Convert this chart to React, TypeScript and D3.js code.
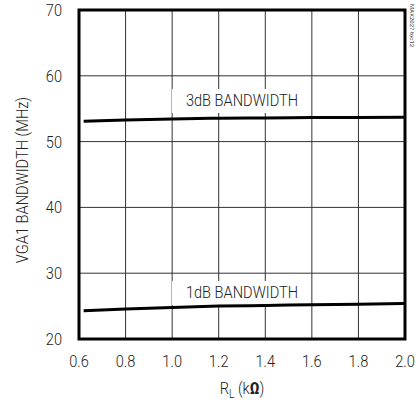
import React from "react";
import * as d3 from "d3";

const xTicks = [0.6, 0.8, 1.0, 1.2, 1.4, 1.6, 1.8, 2.0];
const yTicks = [20, 30, 40, 50, 60, 70];
const rl = [0.62, 0.8, 1.0, 1.2, 1.4, 1.6, 1.8, 2.0];
const bw3dB = [53.1, 53.3, 53.45, 53.55, 53.6, 53.65, 53.68, 53.7];
const bw1dB = [24.3, 24.55, 24.8, 25.0, 25.1, 25.2, 25.3, 25.4];

const W = 416, H = 403;
const L = 79, R = 405, T = 10, B = 339;
const FONT = "Roboto, 'Liberation Sans', sans-serif";
const SX = 0.86;

function Txt(props: { x: number; y: number; anchor?: string; size?: number; rot?: number; children: React.ReactNode; fill?: string }) {
  const { x, y, anchor = "start", size = 17, rot = 0, children, fill = "#222" } = props;
  return (
    <text
      transform={`translate(${x},${y}) rotate(${rot}) scale(${SX},1)`}
      textAnchor={anchor}
      fontSize={size}
      fontWeight={300}
      fontFamily={FONT}
      fill={fill}
    >
      {children}
    </text>
  );
}

export default function App() {
  const x = d3.scaleLinear().domain([0.6, 2.0]).range([L, R]);
  const y = d3.scaleLinear().domain([20, 70]).range([B, T]);
  const line = d3.line<number>().x((_, i) => x(rl[i])).y((d) => y(d)).curve(d3.curveMonotoneX);
  const label = (txt: string, cx: number, base: number) => (
    <g>
      <rect x={cx - 70} y={base - 17} width={136} height={24} fill="#fff" />
      <Txt x={cx} y={base} anchor="middle" size={17}>{txt}</Txt>
    </g>
  );
  return (
    <svg width={W} height={H} style={{ position: "absolute", left: 0, top: 0 }}>
      <rect width={W} height={H} fill="#fff" />
      {xTicks.slice(1, -1).map((t) => (
        <line key={"gx" + t} x1={x(t)} x2={x(t)} y1={T} y2={B} stroke="#333" strokeWidth={1} />
      ))}
      {yTicks.slice(1, -1).map((t) => (
        <line key={"gy" + t} x1={L} x2={R} y1={y(t)} y2={y(t)} stroke="#333" strokeWidth={1} />
      ))}
      {label("3dB BANDWIDTH", 242, 106)}
      {label("1dB BANDWIDTH", 242, 298)}
      <path d={line(bw3dB) || ""} fill="none" stroke="#000" strokeWidth={3} />
      <path d={line(bw1dB) || ""} fill="none" stroke="#000" strokeWidth={3} />
      <rect x={L} y={T} width={R - L} height={B - T} fill="none" stroke="#000" strokeWidth={3} />
      {yTicks.map((t) => (
        <Txt key={"yl" + t} x={62} y={y(t) + 6} anchor="end">{t}</Txt>
      ))}
      {xTicks.map((t) => (
        <Txt key={"xl" + t} x={x(t)} y={367} anchor="middle">{t.toFixed(1)}</Txt>
      ))}
      <Txt x={242} y={394} anchor="middle">
        R<tspan fontSize={12} dy={4}>L</tspan><tspan dy={-4}> (k</tspan><tspan fontWeight="bold">Ω</tspan>)
      </Txt>
      <Txt x={28} y={180} anchor="middle" rot={-90}>VGA1 BANDWIDTH (MHz)</Txt>
      <text transform="translate(410,4) rotate(90)" fontSize={6} fontFamily={FONT} fill="#444">MAX2027 toc12</text>
    </svg>
  );
}
